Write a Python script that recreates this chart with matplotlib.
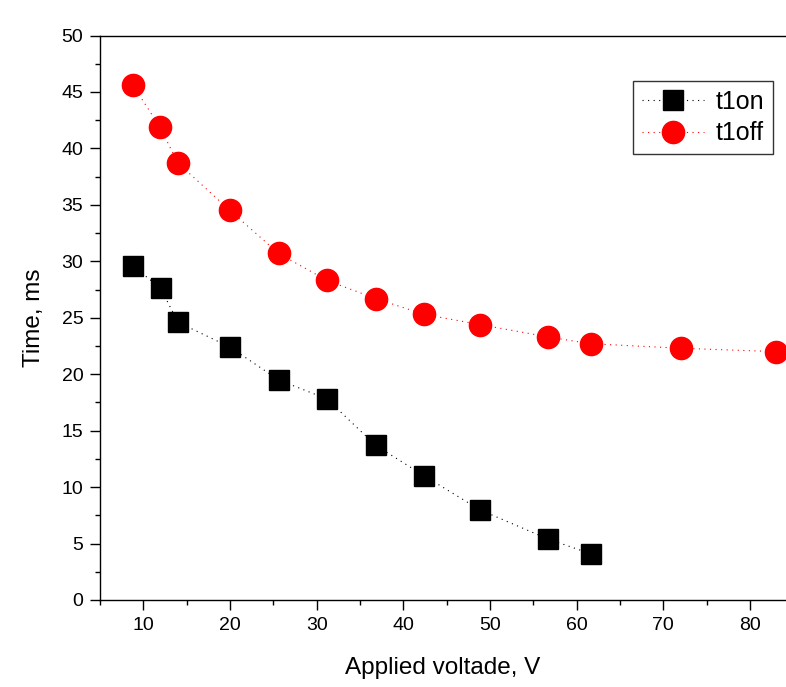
import matplotlib.pyplot as plt
from matplotlib.ticker import MultipleLocator

plt.rcParams['font.family'] = ['Liberation Sans', 'DejaVu Sans']

# voltages and times
volt_on = [8.8, 12.0, 14.0, 20.0, 25.6, 31.2, 36.8, 42.4, 48.8, 56.7, 61.6]
t1on = [29.6, 27.6, 24.6, 22.4, 19.5, 17.8, 13.7, 11.0, 8.0, 5.4, 4.1]

volt_off = [8.8, 11.9, 14.0, 20.0, 25.6, 31.2, 36.8, 42.4, 48.8, 56.7, 61.6, 72.0, 83.0]
t1off = [45.6, 41.9, 38.7, 34.5, 30.7, 28.3, 26.7, 25.3, 24.4, 23.3, 22.7, 22.3, 22.0]

fig = plt.figure(figsize=(7.86, 6.87), dpi=100)
ax = fig.add_axes([100/786, 1 - 600/687, 1 - 100/786, (600 - 35.5)/687])

dots = (0, (1, 4))
ax.plot(volt_on, t1on, ls=dots, lw=0.8, color='black', marker='s', ms=14,
        mec='black', mfc='black', label='t1on')
ax.plot(volt_off, t1off, ls=dots, lw=0.8, color='red', marker='o', ms=16,
        mec='red', mfc='red', label='t1off')

ax.set_xlim(5, 84.15)
ax.set_ylim(0, 50)
ax.xaxis.set_major_locator(MultipleLocator(10))
ax.xaxis.set_minor_locator(MultipleLocator(5))
ax.yaxis.set_major_locator(MultipleLocator(5))
ax.yaxis.set_minor_locator(MultipleLocator(2.5))
ax.tick_params(which='major', direction='out', length=7, width=1.0, labelsize=14, pad=5)
ax.tick_params(which='minor', direction='out', length=3.5, width=1.0)
ax.spines['right'].set_visible(False)
for s in ['left', 'top', 'bottom']:
    ax.spines[s].set_linewidth(1.0)

ax.set_xlabel('Applied voltade, V', fontsize=17.5, labelpad=17)
ax.set_ylabel('Time, ms', fontsize=17.5, labelpad=12)

leg = ax.legend(loc='upper right', bbox_to_anchor=(0.981, 0.919), borderaxespad=0,
                fontsize=18, frameon=True, fancybox=False, edgecolor='black',
                markerscale=1.0, handlelength=2.5, borderpad=0.35,
                labelspacing=0.3, handletextpad=0.45)
leg.get_frame().set_linewidth(1.0)

fig.savefig('out.png', dpi=100)
